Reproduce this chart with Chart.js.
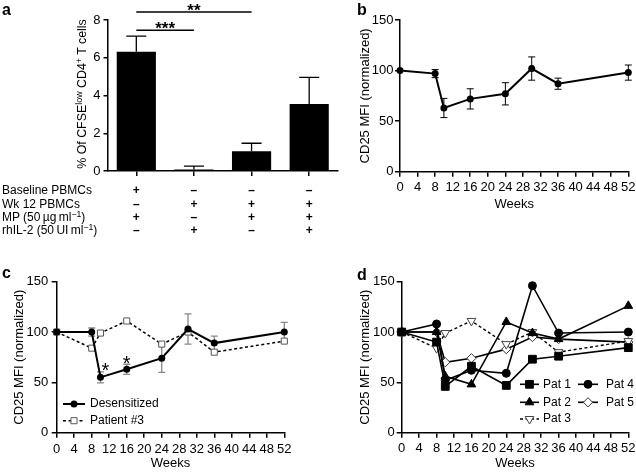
<!DOCTYPE html>
<html>
<head>
<meta charset="utf-8">
<script src="https://cdn.jsdelivr.net/npm/chart.js@4.4.1/dist/chart.umd.min.js"></script>
<style>
html, body { margin: 0; padding: 0; background: #fff; }
#page { position: relative; width: 636px; height: 472px; overflow: hidden; font-family: 'Liberation Sans', Arial, sans-serif; color: #000; }
canvas { position: absolute; }
.tag { position: absolute; font-weight: bold; font-size: 16px; line-height: 18px; }
.rows { position: absolute; left: 2px; top: 184.4px; font-size: 12px; line-height: 13.3px; white-space: nowrap; }
sup { font-size: 0.72em; line-height: 0; vertical-align: 0.45em; }
#aTitle { position: absolute; left: -18px; top: 86px; width: 200px; text-align: center; font-size: 12.4px; line-height: 16px; transform: rotate(-90deg); white-space: nowrap; }
</style>
</head>
<body>
<div id="page">
  <canvas id="chartB" width="316" height="236" style="left:320px;top:0"></canvas>
  <canvas id="chartA" width="345" height="245" style="left:0;top:0"></canvas>
  <canvas id="chartC" width="320" height="232" style="left:0;top:240px"></canvas>
  <canvas id="chartD" width="316" height="232" style="left:320px;top:240px"></canvas>

  <div id="aTitle">% Of CFSE<sup>low</sup> CD4<sup>+</sup> T cells</div>
  <div class="rows">
    <div>Baseline PBMCs</div>
    <div>Wk 12 PBMCs</div>
    <div>MP (50&thinsp;µg&thinsp;ml<sup>−1</sup>)</div>
    <div>rhIL-2 (50&thinsp;UI&thinsp;ml<sup>−1</sup>)</div>
  </div>

  <div class="tag" style="left:2px;top:1px">a</div>
  <div class="tag" style="left:357px;top:1px">b</div>
  <div class="tag" style="left:2px;top:264px">c</div>
  <div class="tag" style="left:357px;top:266px">d</div>
</div>

<script>
// ----- data -----
// panel a: proliferation per condition
const baselineRow = ['+', '–', '–', '–'];
const wk12Row     = ['–', '+', '+', '+'];
const mpRow       = ['+', '–', '+', '+'];
const il2Row      = ['–', '+', '–', '+'];
const aMean = [6.32, 0.08, 1.05, 3.55];
const aErr  = [0.83, 0.18, 0.42, 1.41];
const sigFrom  = [0, 0];
const sigTo    = [1, 2];
const sigLevel = [7.46, 8.42];
const sigText  = ['***', '**'];

// weeks shared by b, c, d
const weeks = [0, 8, 10, 16, 24, 30, 36, 52];

// panel b
const bMean = [100, 97, 63, 72, 77, 102, 87, 98];
const bErr  = [0, 4, 9.5, 10, 11, 11.5, 5.5, 7.5];

// panel c
const desMean = [100, 100, 55, 63, 74, 103, 89, 100];
const desErr  = [0, 4, 5.5, 5, 14, 15, 7, 9.5];
const pat3    = [100, 84, 99, 111, 88, 100, 80, 91];
const starIdx = [2, 3];

// panel d
const pat1 = [100, 90, 46, 66, 47, 73, 76, 84.5];
const pat2 = [100, 100, 56, 48, 110, 99, 93, 126];
const pat4 = [100, 108, 52, 62, 59, 146, 99, 100];
const pat5 = [100, 100, 70, 74, 83, 95, 93, 90];

// ----- helpers -----
const FONT = "'Liberation Sans', Arial, sans-serif";
Chart.defaults.font.family = FONT;
Chart.defaults.font.size = 13;
Chart.defaults.color = '#000';

const toPoints = vals => weeks.map((w, i) => ({ x: w, y: vals[i] }));
const fixY = w => s => { s.width = w; s.paddingTop = 0; s.paddingBottom = 0; };
const fixX = h => s => { s.height = h; s.paddingLeft = 0; s.paddingRight = 0; };

function errorBars(sets) {
    return {
        id: 'errorBars',
        beforeDatasetsDraw(chart) {
            const { ctx, scales } = chart;
            sets.forEach(set => {
                const meta = chart.getDatasetMeta(set.ds);
                const data = chart.data.datasets[set.ds].data;
                ctx.save();
                ctx.strokeStyle = set.color;
                ctx.lineWidth = set.width;
                meta.data.forEach((el, i) => {
                    const err = set.err[i];
                    if (!err) return;
                    const v = typeof data[i] === 'object' ? data[i].y : data[i];
                    const x = el.x;
                    const top = scales.y.getPixelForValue(v + err);
                    const bot = set.upOnly ? el.y : scales.y.getPixelForValue(v - err);
                    ctx.beginPath();
                    ctx.moveTo(x, top); ctx.lineTo(x, bot);
                    ctx.moveTo(x - set.cap, top); ctx.lineTo(x + set.cap, top);
                    if (!set.upOnly) { ctx.moveTo(x - set.cap, bot); ctx.lineTo(x + set.cap, bot); }
                    ctx.stroke();
                });
                ctx.restore();
            });
        }
    };
}

function miniLegend(entries, size) {
    return {
        id: 'miniLegend',
        afterDraw(chart) {
            const ctx = chart.ctx;
            entries.forEach(e => {
                const ds = chart.data.datasets[e.ds];
                ctx.save();
                ctx.strokeStyle = ds.borderColor;
                ctx.lineWidth = ds.borderWidth;
                ctx.setLineDash(ds.borderDash || []);
                ctx.beginPath(); ctx.moveTo(e.x0, e.y); ctx.lineTo(e.x1, e.y); ctx.stroke();
                ctx.setLineDash([]);
                ctx.fillStyle = ds.pointBackgroundColor;
                ctx.strokeStyle = ds.pointBorderColor;
                ctx.lineWidth = ds.pointBorderWidth;
                Chart.helpers.drawPoint(ctx, {
                    pointStyle: ds.pointStyle || 'circle', radius: ds.pointRadius,
                    rotation: ds.pointRotation || 0, borderWidth: ds.pointBorderWidth
                }, (e.x0 + e.x1) / 2, e.y);
                ctx.fillStyle = '#000';
                ctx.font = size + 'px ' + FONT;
                ctx.textAlign = 'left';
                ctx.textBaseline = 'middle';
                ctx.fillText(ds.label, e.tx, e.y);
                ctx.restore();
            });
        }
    };
}

const sigLines = {
    id: 'sigLines',
    afterDraw(chart) {
        const { ctx, scales: { x, y } } = chart;
        sigFrom.forEach((f, k) => {
            const x1 = x.getPixelForValue(f), x2 = x.getPixelForValue(sigTo[k]);
            const yy = y.getPixelForValue(sigLevel[k]);
            ctx.save();
            ctx.strokeStyle = '#000'; ctx.lineWidth = 1.5;
            ctx.beginPath(); ctx.moveTo(x1, yy); ctx.lineTo(x2, yy); ctx.stroke();
            ctx.fillStyle = '#000';
            ctx.font = 'bold 17px ' + FONT;
            ctx.textAlign = 'center'; ctx.textBaseline = 'alphabetic';
            ctx.fillText(sigText[k], (x1 + x2) / 2, yy + 3.5);
            ctx.restore();
        });
    }
};

const stars = {
    id: 'stars',
    afterDraw(chart) {
        const { ctx, scales: { y } } = chart;
        const meta = chart.getDatasetMeta(0);
        const dx = [5, 0];
        starIdx.forEach((i, k) => {
            const top = y.getPixelForValue(desMean[i] + desErr[i]);
            ctx.save();
            ctx.fillStyle = '#000';
            ctx.font = '20px ' + FONT;
            ctx.textAlign = 'center'; ctx.textBaseline = 'alphabetic';
            ctx.fillText('*', meta.data[i].x + dx[k], top - 6 + 11.6);
            ctx.restore();
        });
    }
};

function axisGrid(len) {
    return { drawOnChartArea: false, drawTicks: true, tickLength: len, color: '#000', lineWidth: 1.5, offset: false };
}
const axisBorder = { display: true, color: '#000', width: 1.5 };

function weekAxis(tickPad, titlePadBottom, height) {
    return {
        type: 'linear', min: 0, max: 52,
        grid: axisGrid(5), border: axisBorder,
        ticks: { stepSize: 4, autoSkip: false, maxRotation: 0, padding: tickPad, font: { size: 13 } },
        title: { display: true, text: 'Weeks', font: { size: 13 }, padding: { top: 0, bottom: titlePadBottom } },
        afterFit: fixX(height)
    };
}
function mfiAxis(tickPad, titlePadTop, width) {
    return {
        min: 0, max: 150,
        grid: axisGrid(5), border: axisBorder,
        ticks: { stepSize: 50, padding: tickPad, font: { size: 13 } },
        title: { display: true, text: 'CD25 MFI (normalized)', font: { size: 13 }, padding: { top: titlePadTop, bottom: 0 } },
        afterFit: fixY(width)
    };
}
const baseOpts = {
    responsive: false, animation: false, devicePixelRatio: 1,
    plugins: { legend: { display: false }, tooltip: { enabled: false } }
};

// ----- panel a -----
new Chart(document.getElementById('chartA'), {
    type: 'bar',
    data: {
        labels: baselineRow.map((_, i) => [baselineRow[i], wk12Row[i], mpRow[i], il2Row[i]]),
        datasets: [{ data: aMean, backgroundColor: '#000', barPercentage: 0.68, categoryPercentage: 1 }]
    },
    options: {
        ...baseOpts,
        layout: { padding: { top: 20, right: 7, left: 0, bottom: 0 } },
        scales: {
            x: {
                grid: axisGrid(5), border: axisBorder,
                ticks: { padding: 8.3, autoSkip: false, maxRotation: 0, font: { size: 12, weight: 'bold', lineHeight: 1.108 } },
                afterFit: fixX(74)
            },
            y: {
                min: 0, max: 8,
                grid: axisGrid(4), border: axisBorder,
                ticks: { stepSize: 2, padding: 3, font: { size: 13 } },
                afterFit: fixY(107.5)
            }
        }
    },
    plugins: [errorBars([{ ds: 0, err: aErr, color: '#000', width: 1.3, cap: 10, upOnly: true }]), sigLines]
});

// ----- panel b -----
new Chart(document.getElementById('chartB'), {
    type: 'line',
    data: {
        datasets: [{
            data: toPoints(bMean), borderColor: '#000', borderWidth: 2, clip: false,
            pointRadius: 3.5, pointBackgroundColor: '#000', pointBorderWidth: 0
        }]
    },
    options: {
        ...baseOpts,
        layout: { padding: { top: 20, right: 7.7, left: 0, bottom: 0 } },
        scales: { x: weekAxis(2.5, 24.2, 64.3), y: mfiAxis(1.5, 37.2, 80) }
    },
    plugins: [errorBars([{ ds: 0, err: bErr, color: '#000', width: 1, cap: 3.5 }])]
});

// ----- panel c -----
new Chart(document.getElementById('chartC'), {
    type: 'line',
    data: {
        datasets: [{
            label: 'Desensitized', data: toPoints(desMean), borderColor: '#000', borderWidth: 2, clip: false,
            pointRadius: 3.5, pointBackgroundColor: '#000', pointBorderColor: '#000', pointBorderWidth: 0
        }, {
            label: 'Patient #3', data: toPoints(pat3), borderColor: '#000', borderWidth: 1.5, borderDash: [3, 2.5], clip: false,
            pointStyle: 'rect', pointRadius: 4.3, pointBackgroundColor: '#fff', pointBorderColor: '#555', pointBorderWidth: 1
        }]
    },
    options: {
        ...baseOpts,
        layout: { padding: { top: 41.7, right: 35.7, left: 0, bottom: 0 } },
        scales: { x: weekAxis(3.8, 0.9, 39.3), y: mfiAxis(3.5, 11.2, 56.7) }
    },
    plugins: [
        errorBars([{ ds: 0, err: desErr, color: '#888', width: 1.3, cap: 3.5 }]),
        stars,
        miniLegend([
            { ds: 0, x0: 63, x1: 85, y: 164, tx: 90 },
            { ds: 1, x0: 63, x1: 85, y: 180.7, tx: 90 }
        ], 12)
    ]
});

// ----- panel d -----
const dLine = { borderColor: '#000', borderWidth: 1.6, clip: false, pointBorderColor: '#000', pointBorderWidth: 1 };
new Chart(document.getElementById('chartD'), {
    type: 'line',
    data: {
        datasets: [
            { ...dLine, label: 'Pat 1', data: toPoints(pat1), pointStyle: 'rect', pointRadius: 5.5, pointBackgroundColor: '#000' },
            { ...dLine, label: 'Pat 2', data: toPoints(pat2), pointStyle: 'triangle', pointRadius: 5, pointBackgroundColor: '#000' },
            { ...dLine, label: 'Pat 3', data: toPoints(pat3), borderWidth: 1.4, borderDash: [3, 2.5], pointStyle: 'triangle', pointRotation: 180,
              pointRadius: 5, pointBackgroundColor: '#fff', pointBorderColor: '#444' },
            { ...dLine, label: 'Pat 4', data: toPoints(pat4), pointStyle: 'circle', pointRadius: 4, pointBackgroundColor: '#000' },
            { ...dLine, label: 'Pat 5', data: toPoints(pat5), pointStyle: 'rectRot', pointRadius: 4.6, pointBackgroundColor: '#fff', pointBorderColor: '#333' }
        ]
    },
    options: {
        ...baseOpts,
        layout: { padding: { top: 41.7, right: 7.7, left: 0, bottom: 0 } },
        scales: { x: weekAxis(2.8, 1.2, 39.3), y: mfiAxis(2, 37.2, 81.7) }
    },
    plugins: [miniLegend([
        { ds: 0, x0: 200, x1: 219, y: 144.3, tx: 223 },
        { ds: 1, x0: 200, x1: 219, y: 162.3, tx: 223 },
        { ds: 2, x0: 200, x1: 219, y: 179, tx: 223 },
        { ds: 3, x0: 258, x1: 278, y: 144.3, tx: 286 },
        { ds: 4, x0: 258, x1: 278, y: 162.3, tx: 286 }
    ], 12)]
});
</script>
</body>
</html>
